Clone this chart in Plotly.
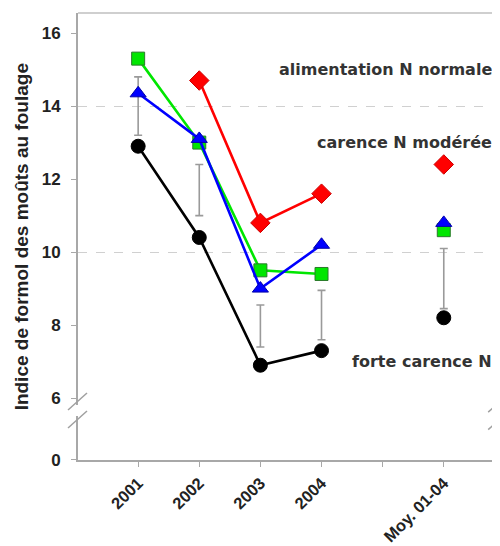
import plotly.graph_objects as go

categories = ['2001', '2002', '2003', '2004', ' ', 'Moy. 01-04']

# series values (None = no value; blank category breaks the line)
forte_carence = [12.9, 10.4, 6.9, 7.3, None, 8.2]
vert = [15.3, 13.0, 9.5, 9.4, None, 10.6]
bleu = [14.35, 13.1, 9.0, 10.2, None, 10.8]
alimentation_normale = [None, 14.7, 10.8, 11.6, None, 12.4]

# separate variability bars (low / high)
err_cats = ['2001', '2002', '2003', '2004', 'Moy. 01-04']
err_low = [13.2, 11.0, 7.4, 7.6, 8.45]
err_high = [14.8, 12.4, 8.55, 8.95, 10.1]

y_ticks_upper = [6, 8, 10, 12, 14, 16]
y_ticks_lower = [0]
grid_values = [10, 14]

labels = ['alimentation N normale', 'carence N modérée', 'forte carence N']
label_y = [15.0, 13.0, 7.0]

FONT = 'Arial, Liberation Sans, sans-serif'
LABEL_FONT = 'DejaVu Sans, Verdana, sans-serif'
AXIS_GRAY = '#a8a8a8'

fig = go.Figure()

mid = [(a + b) / 2 for a, b in zip(err_low, err_high)]
half = [(b - a) / 2 for a, b in zip(err_low, err_high)]
fig.add_trace(go.Scatter(
    x=err_cats, y=mid, mode='markers',
    marker=dict(size=1, color='rgba(0,0,0,0)'),
    error_y=dict(type='data', array=half, visible=True, color='#9a9a9a',
                 thickness=1.6, width=4),
    showlegend=False, hoverinfo='skip'))

series = [
    (alimentation_normale, '#ff0000', 'diamond', 15, '#cc0000'),
    (vert, '#00e600', 'square', 13, '#2a7a2a'),
    (bleu, '#0000ff', 'triangle-up', 14, '#0000aa'),
    (forte_carence, '#000000', 'circle', 14, '#000000'),
]
for vals, col, sym, size, edge in series:
    fig.add_trace(go.Scatter(
        x=categories, y=vals, mode='lines+markers',
        line=dict(color=col, width=2.6),
        marker=dict(symbol=sym, size=size, color=col,
                    line=dict(color=edge, width=1)),
        connectgaps=False, showlegend=False))

# invisible traces to activate the lower (broken) axis and overlay grid axis
fig.add_trace(go.Scatter(x=['2001'], y=[0.5], yaxis='y2', mode='markers',
                         marker=dict(size=1, color='rgba(0,0,0,0)'),
                         showlegend=False, hoverinfo='skip'))
fig.add_trace(go.Scatter(x=['2001'], y=[10], yaxis='y3', mode='markers',
                         marker=dict(size=1, color='rgba(0,0,0,0)'),
                         showlegend=False, hoverinfo='skip'))

tickfont = dict(family=FONT, size=17, color='#222222', weight='bold')

fig.update_layout(
    width=492, height=538,
    margin=dict(l=70, r=0, t=5, b=86, autoexpand=False),
    plot_bgcolor='white', paper_bgcolor='white',
    xaxis=dict(
        type='category', categoryorder='array', categoryarray=categories,
        range=[-0.984, 5.92], anchor='y2', automargin=False,
        tickmode='array', tickvals=categories,
        ticktext=['2001', '2002', '2003', '2004', '', 'Moy. 01-04'],
        tickangle=-45, ticks='outside', ticklen=5, tickcolor=AXIS_GRAY,
        tickfont=dict(family=FONT, size=16.5, color='#222222', weight='bold'),
        showline=True, linecolor=AXIS_GRAY, linewidth=2,
        showgrid=False, zeroline=False),
    yaxis=dict(
        domain=[0.123, 1], range=[5.81, 16.55], anchor='x', automargin=False,
        tickmode='array', tickvals=y_ticks_upper,
        ticks='outside', ticklen=5, tickcolor=AXIS_GRAY,
        tickfont=tickfont, ticklabelstandoff=7,
        showline=True, linecolor=AXIS_GRAY, linewidth=2,
        showgrid=False, zeroline=False),
    yaxis2=dict(
        domain=[0, 0.0984], range=[0, 1.2], anchor='x', automargin=False,
        tickmode='array', tickvals=y_ticks_lower,
        ticks='outside', ticklen=5, tickcolor=AXIS_GRAY,
        tickfont=tickfont, ticklabelstandoff=7,
        showline=True, linecolor=AXIS_GRAY, linewidth=2,
        showgrid=False, zeroline=False),
    yaxis3=dict(
        overlaying='y', range=[5.81, 16.55], anchor='x', automargin=False,
        tickmode='array', tickvals=grid_values,
        showticklabels=False, ticks='',
        showgrid=True, gridcolor='#d0d0d0', gridwidth=1, griddash='dash',
        showline=False, zeroline=False),
)

# series labels
for txt, yv in zip(labels, label_y):
    fig.add_annotation(x=0.985, xref='paper', y=yv, yref='y',
                       text=txt, showarrow=False, xanchor='right',
                       font=dict(family=LABEL_FONT, size=16, color='#333333',
                                 weight='bold'))

# y-axis title centered on the whole plot height
fig.add_annotation(x=-0.133, xref='paper', y=0.5, yref='paper',
                   text='Indice de formol des moûts au foulage',
                   textangle=-90, showarrow=False,
                   xanchor='center', yanchor='middle',
                   font=dict(family=FONT, size=19, color='#222222',
                             weight='bold'))

# top frame line
fig.add_shape(type='line', xref='paper', yref='paper', x0=0, x1=1, y0=1, y1=1,
              line=dict(color='#cfcfcf', width=2))

# axis break marks
brk = dict(color='#a0a0a0', width=1.5)
for (x0, y0, x1, y1) in [(-0.0237, 0.1119, 0.0213, 0.1499),
                         (-0.0237, 0.0716, 0.0213, 0.1096),
                         (0.972, 0.107, 1.02, 0.148),
                         (0.972, 0.068, 1.02, 0.109)]:
    fig.add_shape(type='line', xref='paper', yref='paper',
                  x0=x0, y0=y0, x1=x1, y1=y1, line=brk)

fig.write_html('out.html')
